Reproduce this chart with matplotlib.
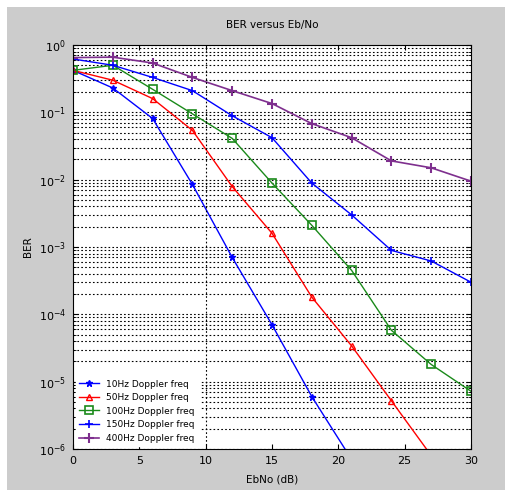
import matplotlib
matplotlib.use("Agg")
import matplotlib.pyplot as plt
from matplotlib.patches import Rectangle

# Eb/No points (dB) and BER per Doppler frequency
ebno = [0, 3, 6, 9, 12, 15, 18, 21, 24, 27, 30]
ber_10hz = [0.42, 0.23, 0.081, 0.0085, 7.0e-4, 7.0e-5, 6.0e-6, 7.0e-7]
ber_50hz = [0.42, 0.30, 0.16, 0.054, 0.0079, 1.6e-3, 1.8e-4, 3.4e-5, 5.2e-6, 8.0e-7]
ber_100hz = [0.42, 0.50, 0.22, 0.095, 0.041, 8.9e-3, 2.1e-3, 4.5e-4, 5.8e-5, 1.8e-5, 7.2e-6]
ber_150hz = [0.62, 0.50, 0.33, 0.21, 0.089, 0.042, 8.9e-3, 3.0e-3, 8.9e-4, 6.2e-4, 3.0e-4]
ber_400hz = [0.65, 0.66, 0.54, 0.33, 0.21, 0.135, 0.068, 0.042, 0.019, 0.015, 9.5e-3]

labels = ['10Hz Doppler freq', '50Hz Doppler freq', '100Hz Doppler freq',
          '150Hz Doppler freq', '400Hz Doppler freq']

fig = plt.figure(figsize=(5.06, 4.90), dpi=100)
fig.patch.set_facecolor('white')
# matlab-style grey panel (small white strip on top/left as in the screenshot)
fig.patches.append(Rectangle((7 / 506, -0.05), 1.1, 1.05 - 7 / 490,
                             transform=fig.transFigure,
                             facecolor='#cccccc', edgecolor='none', zorder=-10))

ax = fig.add_axes([73 / 506, 1 - 449 / 490, (471 - 73) / 506, (449 - 45) / 490])
ax.set_facecolor('white')

ax.semilogy(ebno[:len(ber_10hz)], ber_10hz, color='blue', marker='*', ms=5,
            lw=1, label=labels[0])
ax.semilogy(ebno[:len(ber_50hz)], ber_50hz, color='red', marker='^', ms=5,
            mfc='none', lw=1, label=labels[1])
ax.semilogy(ebno, ber_100hz, color='#1a8a1a', marker='s', ms=5.5, mfc='none',
            mew=1.2, lw=1, label=labels[2])
ax.semilogy(ebno, ber_150hz, color='blue', marker='+', ms=6, mew=1.2,
            lw=1, label=labels[3])
ax.semilogy(ebno, ber_400hz, color='#7e2f8e', marker='+', ms=7, mew=1.5,
            lw=1.2, label=labels[4])

ax.set_xlim(0, 30)
ax.set_ylim(1e-6, 1)
ax.set_xticks([0, 5, 10, 15, 20, 25, 30])
ax.set_yticks([10.0 ** k for k in range(-6, 1)])

# dotted horizontal grid (major + minor), only one vertical line at 10
ax.yaxis.grid(True, which='both', color='black', linestyle=(0, (1.5, 2)), lw=0.8)
ax.axvline(10, color='black', linestyle=(0, (1.5, 2)), lw=0.8)

ax.tick_params(which='both', direction='in', labelsize=8, top=True, right=True)
ax.tick_params(which='major', pad=5)
ax.tick_params(which='minor', length=2)
for sp in ax.spines.values():
    sp.set_linewidth(0.8)

ax.set_title('BER versus Eb/No', fontsize=7.5, pad=12)
ax.set_xlabel('EbNo (dB)', fontsize=7.5, labelpad=6)
ax.set_ylabel('BER', fontsize=7.5)

leg = ax.legend(loc='lower left', fontsize=6.5, frameon=True, fancybox=False,
                edgecolor='white', framealpha=1, borderaxespad=0.3,
                handlelength=2.2, labelspacing=0.5)

fig.savefig('out.png', dpi=100, facecolor=fig.get_facecolor())
